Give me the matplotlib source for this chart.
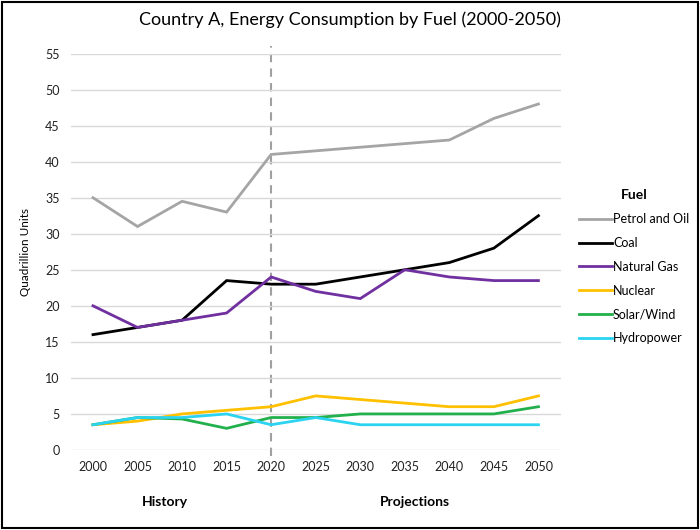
import matplotlib.pyplot as plt
from matplotlib.patches import Rectangle

plt.rcParams['font.family'] = ['Lato', 'DejaVu Sans']

years = ['2000', '2005', '2010', '2015', '2020', '2025', '2030', '2035', '2040', '2045', '2050']
petrol = [35, 31, 34.5, 33, 41, 41.5, 42, 42.5, 43, 46, 48]
coal = [16, 17, 18, 23.5, 23, 23, 24, 25, 26, 28, 32.5]
natural_gas = [20, 17, 18, 19, 24, 22, 21, 25, 24, 23.5, 23.5]
nuclear = [3.5, 4, 5, 5.5, 6, 7.5, 7, 6.5, 6, 6, 7.5]
solar_wind = [3.5, 4.5, 4.3, 3, 4.5, 4.5, 5, 5, 5, 5, 6]
hydro = [3.5, 4.5, 4.5, 5, 3.5, 4.5, 3.5, 3.5, 3.5, 3.5, 3.5]

series = [
    ('Petrol and Oil', petrol, '#a5a5a5'),
    ('Coal', coal, '#000000'),
    ('Natural Gas', natural_gas, '#7030a0'),
    ('Nuclear', nuclear, '#ffc000'),
    ('Solar/Wind', solar_wind, '#22b04c'),
    ('Hydropower', hydro, '#2ad4f0'),
]

fig = plt.figure(figsize=(7, 5.3), dpi=100)
ax = fig.add_axes([0.101, 0.151, 0.70, 0.748])

x = list(range(len(years)))
for name, vals, col in series:
    ax.plot(x, vals, color=col, lw=2.0, label=name, solid_joinstyle='miter')

# history / projections split
ax.axvline(4, ymin=-0.015, ymax=1.02, color='#a0a0a0', lw=1.5, ls=(0, (4, 3)), clip_on=False, zorder=0)

ax.set_xlim(-0.5, len(years) - 0.5)
ax.set_ylim(0, 55)
ax.set_yticks(range(0, 56, 5))
ax.set_xticks(x)
ax.set_xticklabels(years)
ax.tick_params(length=0, labelsize=9, colors='#222222', pad=8)
ax.grid(axis='y', color='#d9d9d9', lw=1)
ax.set_axisbelow(True)
for s in ax.spines.values():
    s.set_visible(False)

ax.set_ylabel('Quadrillion Units', fontsize=8.5, labelpad=10)
fig.text(0.5, 0.962, 'Country A, Energy Consumption by Fuel (2000-2050)', ha='center', va='center', fontsize=13)
fig.text(165 / 700, 1 - 502 / 530, 'History', ha='center', va='center', fontsize=10, fontweight='bold')
fig.text(415 / 700, 1 - 502 / 530, 'Projections', ha='center', va='center', fontsize=10, fontweight='bold')

leg = fig.legend(loc='upper left', bbox_to_anchor=(568 / 700, 1 - 178 / 530), frameon=False,
                 title='Fuel', fontsize=9, title_fontproperties={'weight': 'bold', 'size': 10},
                 handlelength=2.6, handletextpad=0.1, labelspacing=0.95)
leg._legend_box.align = 'center'

fig.patches.append(Rectangle((0.003, 0.004), 0.994, 0.992, transform=fig.transFigure,
                             fill=False, edgecolor='black', lw=1.5))

plt.savefig('out.png', dpi=100)
